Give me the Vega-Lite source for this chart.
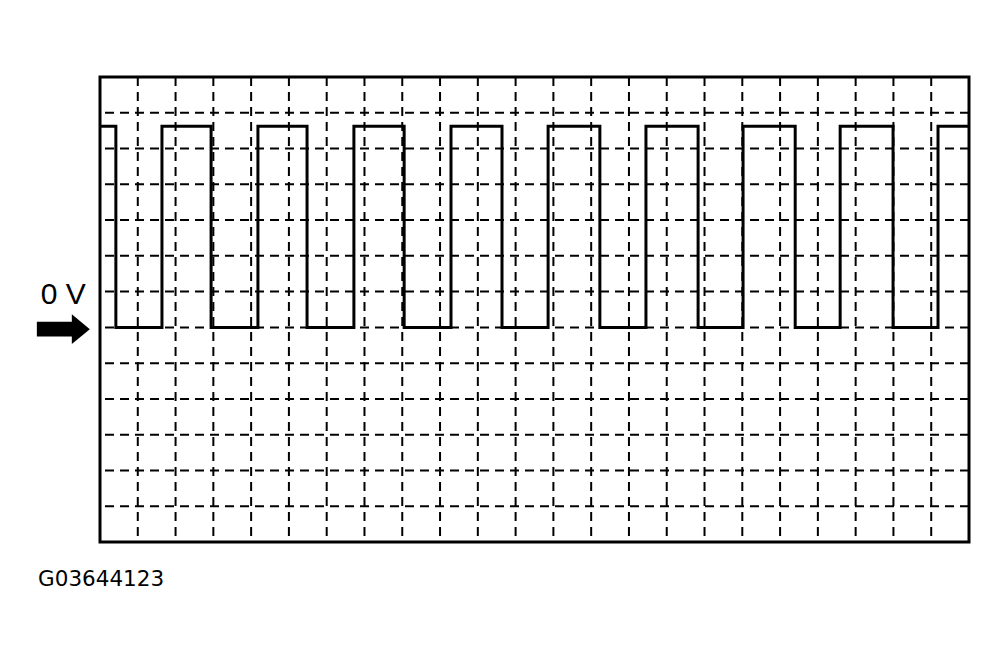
{
  "$schema": "https://vega.github.io/schema/vega-lite/v6.json",
  "autosize": {"type": "none"},
  "padding": {"left": 100, "top": 77, "right": 39, "bottom": 123},
  "width": 869,
  "height": 465,
  "background": "white",
  "config": {
    "view": {"stroke": "black", "strokeWidth": 3}
  },
  "encoding": {
    "x": {"type": "quantitative", "scale": {"domain": [0, 23], "nice": false, "zero": false}, "axis": null},
    "y": {"type": "quantitative", "scale": {"domain": [-6, 7], "nice": false, "zero": false}, "axis": null}
  },
  "layer": [
    {
      "data": {"values": [
        {"gx": 1}, {"gx": 2}, {"gx": 3}, {"gx": 4}, {"gx": 5}, {"gx": 6}, {"gx": 7}, {"gx": 8},
        {"gx": 9}, {"gx": 10}, {"gx": 11}, {"gx": 12}, {"gx": 13}, {"gx": 14}, {"gx": 15}, {"gx": 16},
        {"gx": 17}, {"gx": 18}, {"gx": 19}, {"gx": 20}, {"gx": 21}, {"gx": 22}
      ]},
      "mark": {"type": "rule", "color": "black", "strokeWidth": 2, "strokeDash": [9, 6]},
      "encoding": {"x": {"field": "gx", "type": "quantitative"}}
    },
    {
      "data": {"values": [
        {"gy": -5}, {"gy": -4}, {"gy": -3}, {"gy": -2}, {"gy": -1}, {"gy": 0},
        {"gy": 1}, {"gy": 2}, {"gy": 3}, {"gy": 4}, {"gy": 5}, {"gy": 6}
      ]},
      "mark": {"type": "rule", "color": "black", "strokeWidth": 2, "strokeDash": [9, 6]},
      "encoding": {"y": {"field": "gy", "type": "quantitative"}}
    },
    {
      "data": {
        "values": [
          {"t": 0, "v": 5.62},
          {"t": 0.42, "v": 0},
          {"t": 1.64, "v": 5.62},
          {"t": 2.94, "v": 0},
          {"t": 4.18, "v": 5.62},
          {"t": 5.48, "v": 0},
          {"t": 6.72, "v": 5.62},
          {"t": 8.05, "v": 0},
          {"t": 9.29, "v": 5.62},
          {"t": 10.64, "v": 0},
          {"t": 11.86, "v": 5.62},
          {"t": 13.23, "v": 0},
          {"t": 14.45, "v": 5.62},
          {"t": 15.83, "v": 0},
          {"t": 17.02, "v": 5.62},
          {"t": 18.40, "v": 0},
          {"t": 19.59, "v": 5.62},
          {"t": 20.99, "v": 0},
          {"t": 22.18, "v": 5.62},
          {"t": 23, "v": 5.62}
        ]
      },
      "mark": {"type": "line", "interpolate": "step-after", "color": "black", "strokeWidth": 3, "strokeJoin": "miter"},
      "encoding": {
        "x": {"field": "t", "type": "quantitative"},
        "y": {"field": "v", "type": "quantitative"}
      }
    },
    {
      "data": {"values": [{"label": "0 V"}]},
      "mark": {"type": "text", "font": "Liberation Sans", "fontSize": 30, "align": "center", "baseline": "alphabetic", "color": "black"},
      "encoding": {
        "text": {"field": "label"},
        "x": {"datum": -0.97},
        "y": {"datum": 0.65}
      }
    },
    {
      "data": {"values": [{"label": "arrow"}]},
      "mark": {
        "type": "point", "filled": true, "color": "black", "opacity": 1, "size": 2809,
        "shape": "M-1,-0.28 L0.32,-0.28 L0.32,-0.56 L1,0 L0.32,0.56 L0.32,0.28 L-1,0.28 Z"
      },
      "encoding": {
        "x": {"datum": -0.97},
        "y": {"datum": -0.05}
      }
    },
    {
      "data": {"values": [{"label": "G03644123"}]},
      "mark": {"type": "text", "font": "DejaVu Sans", "fontSize": 21.5, "align": "left", "baseline": "alphabetic", "color": "black"},
      "encoding": {
        "text": {"field": "label"},
        "x": {"datum": -1.64},
        "y": {"datum": -7.23}
      }
    }
  ]
}
